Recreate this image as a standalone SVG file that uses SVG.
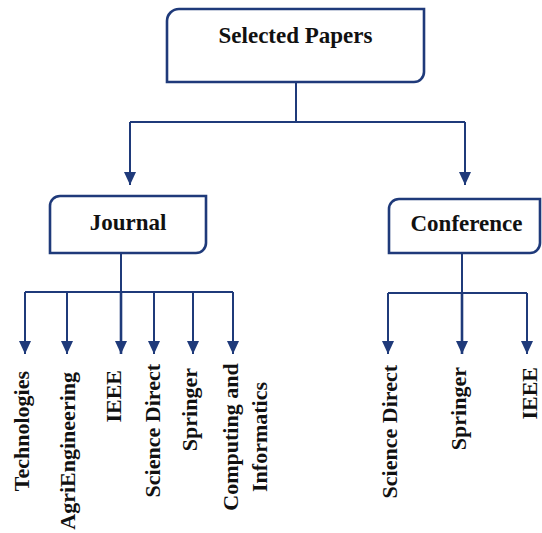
<svg xmlns="http://www.w3.org/2000/svg" width="542" height="533" viewBox="0 0 542 533">
<style>
.box{fill:#fff;stroke:#1f3a7a;stroke-width:2.6}
.ln{fill:none;stroke:#1f3a7a;stroke-width:2}
.t{font-family:"Liberation Serif","Times New Roman",serif;font-weight:bold;font-size:22px;fill:#111}
.h{font-size:23px}
</style>
<defs>
<marker id="ah" markerUnits="userSpaceOnUse" markerWidth="14" markerHeight="14" viewBox="0 0 14 14" refX="13" refY="7" orient="auto">
<path d="M0,1 L13,7 L0,13 Z" fill="#1f3a7a"/>
</marker>
</defs>
<rect width="542" height="533" fill="#fff"/>
<g id="connectors">
<path class="ln" d="M296,82 V122 M130,122 H465"/>
<path class="ln" d="M130,122 V185" marker-end="url(#ah)"/>
<path class="ln" d="M465,122 V185" marker-end="url(#ah)"/>
<path class="ln" d="M121,253 V292 M25,292 H233"/>
<path class="ln" d="M25,292 V354" marker-end="url(#ah)"/>
<path class="ln" d="M67,292 V354" marker-end="url(#ah)"/>
<path class="ln" style="stroke-width:2.6" d="M121,292 V354" marker-end="url(#ah)"/>
<path class="ln" d="M154,292 V354" marker-end="url(#ah)"/>
<path class="ln" d="M193,292 V354" marker-end="url(#ah)"/>
<path class="ln" d="M233,292 V354" marker-end="url(#ah)"/>
<path class="ln" d="M462,253 V293 M388,293 H527"/>
<path class="ln" d="M388,293 V354" marker-end="url(#ah)"/>
<path class="ln" style="stroke-width:2.6" d="M462,293 V354" marker-end="url(#ah)"/>
<path class="ln" d="M527,293 V354" marker-end="url(#ah)"/>
</g>
<g id="selected-papers">
<path class="box" d="M179,9 H424 V72 A10,10 0 0 1 414,82 H167 V21 A12,12 0 0 1 179,9 Z"/>
<text class="t h" x="295.5" y="43" text-anchor="middle">Selected Papers</text>
</g>
<g id="journal">
<path class="box" d="M60,196 H206 V243 A10,10 0 0 1 196,253 H50 V206 A10,10 0 0 1 60,196 Z"/>
<text class="t h" x="128" y="230" text-anchor="middle">Journal</text>
</g>
<g id="conference">
<path class="box" d="M399,199 H540 V243 A10,10 0 0 1 530,253 H389 V209 A10,10 0 0 1 399,199 Z"/>
<text class="t h" x="466.5" y="231" text-anchor="middle">Conference</text>
</g>
<g id="j-technologies"><text class="t" text-anchor="end" transform="translate(29,371) rotate(-90)">Technologies</text></g>
<g id="j-agriengineering"><text class="t" text-anchor="end" transform="translate(75,372) rotate(-90)">AgriEngineering</text></g>
<g id="j-ieee"><text class="t" text-anchor="end" transform="translate(121,370) rotate(-90)">IEEE</text></g>
<g id="j-sciencedirect"><text class="t" text-anchor="end" transform="translate(160,364) rotate(-90)">Science Direct</text></g>
<g id="j-springer"><text class="t" text-anchor="end" transform="translate(197,368) rotate(-90)">Springer</text></g>
<g id="j-computing"><text class="t" text-anchor="middle" transform="translate(238,437) rotate(-90)">Computing and</text><text class="t" text-anchor="middle" transform="translate(267,437) rotate(-90)">Informatics</text></g>
<g id="c-sciencedirect"><text class="t" text-anchor="end" transform="translate(397,365) rotate(-90)">Science Direct</text></g>
<g id="c-springer"><text class="t" text-anchor="end" transform="translate(466,367) rotate(-90)">Springer</text></g>
<g id="c-ieee"><text class="t" text-anchor="end" transform="translate(537,367) rotate(-90)">IEEE</text></g>
</svg>
